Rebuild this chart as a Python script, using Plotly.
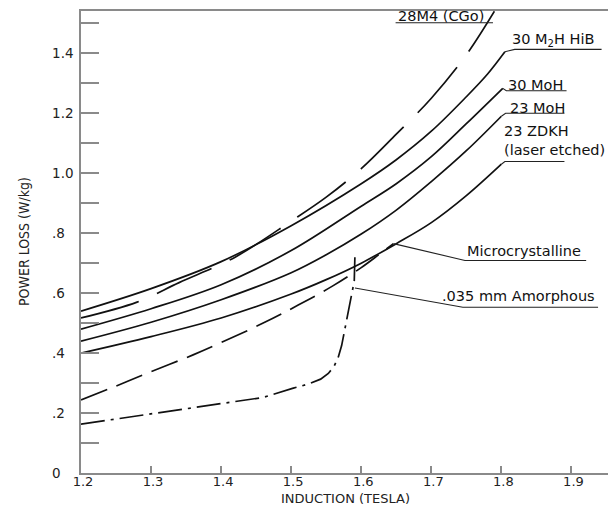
import plotly.graph_objects as go

# ---- data (Induction in Tesla, Power loss in W/kg) ----
HIB_X = [1.2, 1.3, 1.4, 1.5, 1.6, 1.65, 1.7, 1.75, 1.78, 1.805]
HIB_Y = [0.54, 0.615, 0.705, 0.825, 0.965, 1.045, 1.14, 1.255, 1.33, 1.405]

CGO_X = [1.2, 1.28, 1.34, 1.42, 1.5, 1.55, 1.6, 1.65, 1.7, 1.75, 1.79]
CGO_Y = [0.517, 0.57, 0.635, 0.72, 0.84, 0.92, 1.015, 1.13, 1.25, 1.395, 1.54]

MOH30_X = [1.2, 1.3, 1.4, 1.5, 1.6, 1.65, 1.7, 1.75, 1.802]
MOH30_Y = [0.48, 0.548, 0.628, 0.742, 0.89, 0.965, 1.055, 1.165, 1.283]

MOH23_X = [1.2, 1.3, 1.4, 1.5, 1.55, 1.6, 1.65, 1.7, 1.75, 1.8]
MOH23_Y = [0.44, 0.503, 0.578, 0.668, 0.728, 0.797, 0.877, 0.972, 1.075, 1.19]

ZDKH_X = [1.2, 1.3, 1.4, 1.5, 1.55, 1.6, 1.65, 1.7, 1.75, 1.8]
ZDKH_Y = [0.40, 0.455, 0.517, 0.597, 0.645, 0.70, 0.765, 0.835, 0.925, 1.03]

MICRO_X = [1.2, 1.25, 1.3, 1.36, 1.4, 1.46, 1.51, 1.56, 1.6, 1.625, 1.646]
MICRO_Y = [0.244, 0.29, 0.338, 0.394, 0.435, 0.50, 0.56, 0.625, 0.685, 0.728, 0.765]

AMOR_X = [1.2, 1.25, 1.313, 1.36, 1.408, 1.46, 1.503, 1.525, 1.542, 1.553, 1.561, 1.567,
          1.572, 1.579, 1.586, 1.590, 1.591]
AMOR_Y = [0.163, 0.18, 0.20, 0.216, 0.233, 0.252, 0.283, 0.297, 0.313, 0.332, 0.355, 0.385,
          0.425, 0.511, 0.60, 0.64, 0.728]
AMOR_LEADER_Y = 0.617   # point on the vertical part where the label leader starts

Y_TICKVALS = [0, 0.2, 0.4, 0.6, 0.8, 1.0, 1.2, 1.4]
Y_TICKTEXT = ["0\u2008\u2007", ".2\u2007", ".4\u2007", ".6\u2007", ".8\u2007", "1.0", "1.2", "1.4"]
X_TICKVALS = [1.2, 1.3, 1.4, 1.5, 1.6, 1.7, 1.8, 1.9]
X_TICKTEXT = ["1.2", "1.3", "1.4", "1.5", "1.6", "1.7", "1.8", "1.9"]

FONT = "DejaVu Sans, Verdana, sans-serif"
INK = "#111111"
GRAY = "#8a8a8a"

fig = go.Figure()

def curve(x, y, dash="solid", shape="spline", name=""):
    fig.add_trace(go.Scatter(x=x, y=y, mode="lines", name=name,
                             line=dict(color=INK, width=1.7, dash=dash, shape=shape),
                             hoverinfo="skip", showlegend=False))

def leader(pts):
    xs = [p[0] for p in pts]
    ys = [p[1] for p in pts]
    fig.add_trace(go.Scatter(x=xs, y=ys, mode="lines",
                             line=dict(color="#222222", width=1.1),
                             hoverinfo="skip", showlegend=False, cliponaxis=False))

curve(HIB_X, HIB_Y, name="30 M2H HiB")
curve(CGO_X, CGO_Y, dash="60px,20px", name="28M4 (CGo)")
curve(MOH30_X, MOH30_Y, name="30 MoH")
curve(MOH23_X, MOH23_Y, name="23 MoH")
curve(ZDKH_X, ZDKH_Y, name="23 ZDKH")
curve(MICRO_X, MICRO_Y, dash="28px,10px", name="Microcrystalline")
curve(AMOR_X, AMOR_Y, dash="24px,6px,3px,6px", shape="linear", name=".035 mm Amorphous")

# leaders / underlines from curve ends to labels
leader([(1.649, 1.502), (1.788, 1.502)])
leader([(HIB_X[-1], HIB_Y[-1]), (1.819, 1.413), (1.943, 1.413)])
leader([(MOH30_X[-1], MOH30_Y[-1]), (1.807, 1.275), (1.893, 1.275)])
leader([(MOH23_X[-1], MOH23_Y[-1]), (1.806, 1.200), (1.890, 1.200)])
leader([(ZDKH_X[-1], ZDKH_Y[-1]), (1.805, 1.039), (1.890, 1.039)])
leader([(MICRO_X[-1], MICRO_Y[-1]), (1.748, 0.709), (1.921, 0.709)])
leader([(AMOR_X[-1], AMOR_LEADER_Y), (1.745, 0.553), (1.938, 0.553)])

LABELS = [
    ("28M4 (CGo)", 1.649, 1.524),
    ("30 M<sub>2</sub>H HiB", 1.813, 1.444),
    ("30 MoH", 1.807, 1.294),
    ("23 MoH", 1.809, 1.217),
    ("23 ZDKH<br>(laser etched)", 1.801, 1.108),
    ("Microcrystalline", 1.748, 0.739),
    (".035 mm Amorphous", 1.712, 0.591),
]
for text, x, y in LABELS:
    fig.add_annotation(x=x, y=y, xref="x", yref="y", text=text, showarrow=False,
                       xanchor="left", yanchor="middle", align="left",
                       font=dict(family=FONT, size=14.5, color=INK))

# axis titles
fig.add_annotation(x=0.5, y=0, xref="paper", yref="paper", yshift=-25,
                   text="INDUCTION (TESLA)", showarrow=False,
                   xanchor="center", yanchor="middle",
                   font=dict(family=FONT, size=13, color="#222222"))
fig.add_annotation(x=0, y=0.5, xref="paper", yref="paper", xshift=-57,
                   text="POWER LOSS (W/kg)", showarrow=False, textangle=-90,
                   xanchor="center", yanchor="middle",
                   font=dict(family="Liberation Sans Narrow, DejaVu Sans Condensed, Arial Narrow, sans-serif",
                             size=14, color="#222222"))

# the page body has an 8px margin, so the figure is sized/offset to land the
# plot area at the same pixels as the reference
fig.update_layout(
    width=608, height=498,
    margin=dict(l=73, r=7, t=3, b=33, autoexpand=False),
    paper_bgcolor="white", plot_bgcolor="white",
    showlegend=False,
    font=dict(family=FONT, size=13, color="#222222"),
)
fig.update_xaxes(
    range=[1.2, 1.9536], showgrid=False, zeroline=False, automargin=False,
    showline=True, linecolor=GRAY, linewidth=1.5, mirror=True,
    ticks="inside", ticklen=7, tickwidth=1.5, tickcolor=GRAY,
    tickvals=X_TICKVALS, ticktext=X_TICKTEXT, ticklabelshift=2, ticklabelstandoff=-4,
    tickfont=dict(family=FONT, size=13, color="#222222"),
)
fig.update_yaxes(
    range=[0, 1.541], showgrid=False, zeroline=False, automargin=False,
    showline=True, linecolor=GRAY, linewidth=1.5, mirror=True,
    ticks="inside", ticklen=18, tickwidth=1.5, tickcolor=GRAY,
    tickvals=Y_TICKVALS, ticktext=Y_TICKTEXT, ticklabelstandoff=3,
    minor=dict(ticks="inside", ticklen=18, tickwidth=1.5, tickcolor=GRAY, dtick=0.1, tick0=0),
    tickfont=dict(family=FONT, size=13.5, color="#222222"),
)

fig.write_html("out.html")
